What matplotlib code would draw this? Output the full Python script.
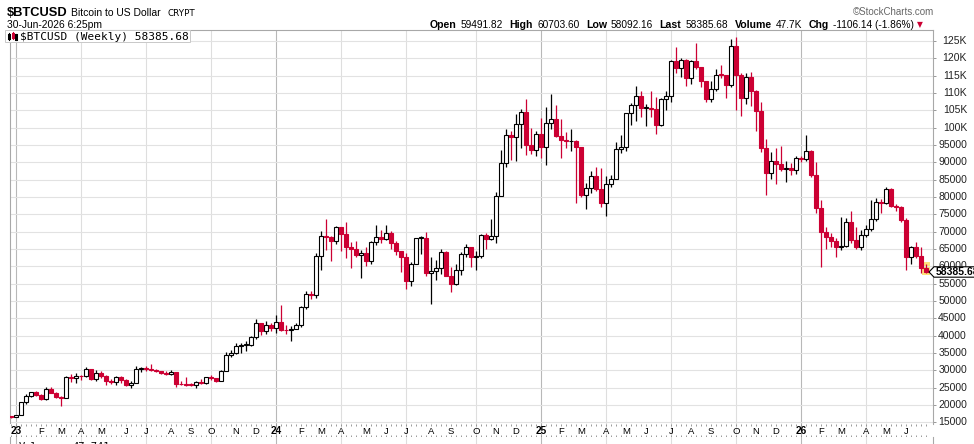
import numpy as np
import pandas as pd
import matplotlib
matplotlib.use("Agg")
import matplotlib.pyplot as plt
from matplotlib.patches import Rectangle, Polygon
from matplotlib.lines import Line2D
from matplotlib.transforms import blended_transform_factory

# --- weekly OHLC for $BTCUSD, thousands of USD ---
opens = [16.84, 16.62, 17.13, 20.88, 22.7, 23.75, 23.0, 21.8, 24.6, 23.55,
         22.4, 22.1, 28.0, 27.8, 28.5, 28.3, 30.3, 27.6, 29.2, 28.4,
         26.9, 26.75, 28.1, 27.1, 25.85, 26.3, 30.5, 30.6, 30.3, 30.25,
         29.9, 29.3, 29.05, 29.4, 26.1, 26.0, 25.85, 25.8, 26.55, 26.25,
         27.97, 27.93, 26.85, 29.95, 34.5, 35.0, 37.05, 37.4, 37.45, 39.5,
         43.8, 41.4, 43.0, 42.3, 43.95, 41.75, 41.6, 42.05, 43.0, 48.3,
         52.1, 51.7, 63.1, 68.9, 68.4, 67.2, 71.3, 69.4, 65.7, 64.9,
         63.4, 63.9, 61.5, 66.9, 68.5, 67.8, 69.6, 66.6, 64.3, 62.7,
         55.8, 60.8, 68.2, 68.3, 58.1, 58.7, 59.5, 64.2, 57.3, 54.8,
         59.1, 63.6, 65.6, 62.8, 62.9, 69.0, 67.9, 68.8, 80.4, 89.8,
         97.9, 97.3, 101.2, 104.5, 95.1, 93.7, 98.3, 94.5, 101.3, 102.6,
         97.7, 96.5, 96.1, 96.3, 94.3, 80.7, 82.6, 86.1, 82.3, 78.4,
         83.8, 85.1, 93.8, 94.3, 104.2, 106.5, 109.0, 105.7, 105.8, 105.5,
         100.9, 108.4, 109.2, 119.1, 117.3, 119.4, 114.2, 119.3, 117.4, 113.5,
         108.3, 111.1, 115.4, 115.2, 112.2, 123.5, 115.2, 108.6, 114.5, 110.5,
         104.7, 94.2, 86.8, 90.4, 89.4, 88.2, 88.4, 87.8, 91.4, 90.9,
         93.4, 86.3, 76.7, 70.0, 68.6, 67.4, 65.7, 66.0, 72.7, 67.6,
         65.7, 69.0, 70.8, 73.8, 78.5, 78.3, 82.3, 77.4, 77.0, 73.5,
         62.6, 65.7, 62.9, 59.49182]
highs = [16.96, 17.18, 21.0, 23.3, 23.9, 24.2, 23.2, 25.25, 25.1, 23.9,
         22.6, 28.4, 28.9, 29.2, 28.8, 30.9, 30.5, 30.0, 29.8, 28.6,
         27.6, 28.3, 28.4, 27.4, 26.8, 31.4, 31.0, 31.4, 31.8, 30.4,
         29.95, 29.7, 30.2, 29.6, 26.8, 28.1, 26.4, 27.0, 27.4, 28.0,
         28.6, 27.95, 30.0, 35.2, 35.9, 37.9, 38.0, 38.4, 40.0, 44.7,
         43.8, 44.3, 43.6, 45.9, 49.0, 43.2, 42.8, 43.8, 48.6, 52.8,
         52.9, 64.0, 70.1, 73.8, 68.9, 71.6, 71.3, 72.8, 66.9, 67.2,
         64.7, 65.5, 67.4, 71.9, 70.6, 71.9, 70.2, 67.3, 64.5, 63.8,
         61.4, 68.3, 68.9, 70.0, 62.7, 61.8, 65.0, 64.5, 59.8, 60.6,
         64.1, 66.5, 65.6, 64.5, 69.4, 69.5, 73.6, 81.5, 93.5, 99.6,
         98.9, 104.0, 105.3, 108.3, 99.9, 99.0, 102.7, 106.0, 109.6, 106.4,
         102.5, 98.8, 99.5, 96.5, 94.4, 84.0, 87.5, 88.8, 88.5, 86.1,
         86.4, 95.8, 97.9, 104.3, 107.1, 111.9, 110.7, 106.8, 110.5, 108.9,
         108.5, 110.5, 119.5, 123.2, 120.2, 119.8, 119.4, 124.5, 117.6, 113.6,
         113.4, 116.8, 118.0, 115.3, 125.7, 126.2, 115.9, 115.9, 116.2, 110.9,
         107.5, 96.6, 93.1, 94.2, 94.6, 90.4, 89.7, 91.8, 91.9, 97.9,
         93.5, 90.2, 79.1, 71.5, 69.5, 68.2, 74.1, 73.9, 76.1, 71.3,
         70.5, 72.0, 79.1, 79.7, 79.5, 83.0, 82.5, 78.0, 77.5, 74.0,
         65.9, 67.0, 65.5, 60.7036]
lows = [16.33, 16.55, 17.08, 20.4, 22.3, 22.6, 21.4, 21.4, 23.6, 21.9,
        19.6, 21.9, 26.6, 26.5, 27.2, 28.2, 27.1, 26.9, 27.7, 25.9,
        26.1, 25.9, 26.5, 25.4, 24.8, 26.3, 29.6, 29.8, 29.9, 29.6,
        29.0, 28.6, 28.7, 25.2, 25.8, 25.4, 25.4, 24.9, 26.0, 26.0,
        27.2, 26.55, 26.8, 29.9, 33.9, 34.6, 35.0, 35.7, 36.9, 39.0,
        40.2, 40.5, 41.5, 40.8, 41.5, 40.6, 38.5, 41.9, 42.6, 47.7,
        50.6, 50.9, 59.0, 64.6, 61.5, 66.4, 64.5, 62.5, 59.6, 62.8,
        56.6, 60.2, 60.8, 66.3, 66.7, 67.6, 65.1, 63.4, 58.4, 53.5,
        54.3, 60.6, 63.5, 57.2, 49.1, 56.1, 57.9, 57.2, 52.6, 54.6,
        57.5, 62.7, 59.8, 58.9, 62.4, 65.1, 67.5, 66.8, 80.3, 88.8,
        90.8, 90.5, 94.2, 92.2, 92.5, 91.8, 91.2, 89.3, 99.5, 97.2,
        91.2, 94.1, 93.4, 78.2, 80.0, 76.6, 81.3, 81.6, 77.1, 74.4,
        83.0, 85.1, 92.8, 93.4, 100.7, 102.0, 103.1, 100.4, 103.1, 98.2,
        100.4, 105.1, 107.5, 115.7, 114.7, 112.0, 112.6, 116.8, 111.7, 107.3,
        107.3, 110.6, 114.4, 108.6, 111.6, 105.0, 103.5, 106.9, 106.3, 98.9,
        93.0, 80.6, 85.2, 83.8, 87.6, 84.4, 86.3, 86.6, 90.2, 90.5,
        85.9, 75.5, 59.9, 64.9, 65.7, 62.8, 64.8, 65.5, 66.8, 65.0,
        64.8, 68.5, 70.3, 73.2, 75.5, 78.0, 77.0, 76.0, 72.8, 59.1,
        60.7, 62.5, 58.0, 58.09216]
closes = [16.62, 17.13, 20.88, 22.7, 23.75, 23.0, 21.8, 24.6, 23.55, 22.4,
          22.1, 28.0, 27.8, 28.5, 28.3, 30.3, 27.6, 29.2, 28.4, 26.9,
          26.75, 28.1, 27.1, 25.85, 26.3, 30.5, 30.6, 30.3, 30.25, 29.9,
          29.3, 29.05, 29.4, 26.1, 26.0, 25.85, 25.8, 26.55, 26.25, 27.97,
          27.93, 26.85, 29.95, 34.5, 35.0, 37.05, 37.4, 37.45, 39.5, 43.8,
          41.4, 43.0, 42.3, 43.95, 41.75, 41.6, 42.05, 43.0, 48.3, 52.1,
          51.7, 63.1, 68.9, 68.4, 67.2, 71.3, 69.4, 65.7, 64.9, 63.4,
          63.9, 61.5, 66.9, 68.5, 67.8, 69.6, 66.6, 64.3, 62.7, 55.8,
          60.8, 68.2, 68.3, 58.1, 58.7, 59.5, 64.2, 57.3, 54.8, 59.1,
          63.6, 65.6, 62.8, 62.9, 69.0, 67.9, 68.8, 80.4, 89.8, 97.9,
          97.3, 101.2, 104.5, 95.1, 93.7, 98.3, 94.5, 101.3, 102.6, 97.7,
          96.5, 96.1, 96.3, 94.3, 80.7, 82.6, 86.1, 82.3, 78.4, 83.8,
          85.1, 93.8, 94.3, 104.2, 106.5, 109.0, 105.7, 105.8, 105.5, 100.9,
          108.4, 109.2, 119.1, 117.3, 119.4, 114.2, 119.3, 117.4, 113.5, 108.3,
          111.1, 115.3, 115.2, 112.2, 123.5, 115.2, 108.6, 114.5, 110.5, 104.7,
          94.2, 86.8, 90.4, 89.4, 88.2, 88.4, 87.8, 91.4, 90.9, 93.4,
          86.3, 76.7, 70.0, 68.6, 67.4, 65.7, 66.0, 72.7, 67.6, 65.7,
          69.0, 70.8, 73.8, 78.5, 78.3, 82.3, 77.4, 77.0, 73.5, 62.6,
          65.7, 62.9, 59.49182, 58.38568]
weeks = pd.date_range("2022-12-26", periods=len(closes), freq="W-MON")

y_ticks = list(range(15000, 125001, 5000))
y_tick_labels = [f"{v // 1000}K" if v >= 100000 else str(v) for v in y_ticks]
month_letters = "JFMAMJJASOND"

header_fields = [("Open", "59491.82"), ("High", "60703.60"), ("Low", "58092.16"),
                 ("Last", "58385.68"), ("Volume", "47.7K"), ("Chg", "-1106.14 (-1.86%)")]

RED = "#cc0033"
FONT = ["Liberation Sans", "DejaVu Sans"]
MONO = ["DejaVu Sans Mono"]
W, H = 974, 444


def fx(px):
    return px / W


def fy(py):
    return 1 - py / H


fig = plt.figure(figsize=(W / 100, H / 100), dpi=100)
fig.patch.set_facecolor("white")

# --- main price panel ---
ax = fig.add_axes([fx(10), fy(424), fx(933) - fx(10), fy(30) - fy(424)])
ax.set_xlim(-0.2, 184.4)
ax.set_ylim(14543, 128172)

o = np.array(opens) * 1000
h = np.array(highs) * 1000
l = np.array(lows) * 1000
c = np.array(closes) * 1000
x = np.arange(len(c))
up = c >= o

# highlight behind the latest bar
last = len(c) - 1
ax.add_patch(Rectangle((last - 0.75, l[last] - 700), 1.5, h[last] - l[last] + 1400,
                       facecolor="#fde27a", edgecolor="none", zorder=1.5))

ax.vlines(x, l, h, colors=np.where(up, "black", RED), lw=0.9, zorder=2)
body = np.maximum(np.abs(c - o), 150)
bottom = np.minimum(o, c)
ax.bar(x[up], body[up], bottom=bottom[up], width=0.72, facecolor="white",
       edgecolor="black", lw=0.8, zorder=3)
ax.bar(x[~up], body[~up], bottom=bottom[~up], width=0.72, facecolor=RED,
       edgecolor=RED, lw=0.8, zorder=3)

ax.set_yticks(y_ticks)
ax.set_yticklabels([])
ax.tick_params(axis="y", left=False, right=True, length=2.5, color="#999999", width=0.7)
ax.set_xticks([])
ax.grid(axis="y", color="#e2e2e2", lw=0.8, zorder=0)
for side in ["left", "right", "top", "bottom"]:
    ax.spines[side].set_color("#a8a8a8")
    ax.spines[side].set_linewidth(0.8)
ax.spines["bottom"].set_visible(False)

# y labels on the right, right-aligned
ylab_trans = blended_transform_factory(fig.transFigure, ax.transData)
for v, lab in zip(y_ticks, y_tick_labels):
    fig.text(fx(967), v, lab, transform=ylab_trans, ha="right", va="center",
             fontsize=7.5, family=FONT, color="#222222")

# --- date strip and the cut-off volume panel ---
ax_strip = fig.add_axes([fx(10), fy(437), fx(933) - fx(10), fy(424) - fy(437)])
ax_strip.set_xlim(ax.get_xlim())
ax_strip.set_ylim(0, 1)
ax_strip.set_yticks([])
ax_strip.set_xticks(x, minor=True)
ax_strip.set_xticks([])
ax_strip.tick_params(axis="x", which="minor", direction="in", top=True, bottom=True,
                     length=1.6, width=0.6, color="#8a8a8a")
for side in ["left", "right", "top", "bottom"]:
    ax_strip.spines[side].set_visible(False)

ax_vol = fig.add_axes([fx(10), fy(470), fx(933) - fx(10), fy(437) - fy(470)])
ax_vol.set_xlim(ax.get_xlim())
ax_vol.set_xticks([])
ax_vol.set_yticks([])
for side in ["left", "right", "top", "bottom"]:
    ax_vol.spines[side].set_color("#a8a8a8")
    ax_vol.spines[side].set_linewidth(0.8)
ax_vol.spines["top"].set_visible(False)

month_starts = [i for i in range(1, len(weeks)) if weeks[i].month != weeks[i - 1].month]
strip_trans = blended_transform_factory(ax_strip.transData, ax_strip.transAxes)
for i in month_starts:
    d = weeks[i]
    if d.month == 1:
        ax_strip.text(i, 0.45, f"{d.year % 100:02d}", transform=strip_trans, ha="center",
                      va="center", fontsize=7.2, weight="bold", family=FONT)
    else:
        ax_strip.text(i, 0.45, month_letters[d.month - 1], transform=strip_trans,
                      ha="center", va="center", fontsize=6.8, family=FONT)
    if d.month in (1, 4, 7, 10):
        col = "#b8b8b8" if d.month == 1 else "#dedede"
        for a in (ax, ax_strip, ax_vol):
            a.axvline(i, color=col, lw=0.8, zorder=0.5)

# --- last price tag on the axis ---
ly = H - ax.transData.transform((0, c[last]))[1]
fig.patches.append(Polygon([(fx(929), fy(ly)), (fx(934), fy(ly - 5.2)), (fx(976), fy(ly - 5.2)),
                            (fx(976), fy(ly + 5.2)), (fx(934), fy(ly + 5.2))],
                           closed=True, transform=fig.transFigure, facecolor="white",
                           edgecolor="black", lw=0.8, zorder=5))
fig.text(fx(936), fy(ly), f"{closes[-1] * 1000:.2f}", ha="left", va="center",
         fontsize=7.5, weight="bold", family=FONT, zorder=6)

# --- header ---
fig.text(fx(7), fy(15.5), "$BTCUSD", fontsize=9.3, weight="bold", family=FONT, va="baseline")
fig.text(fx(71), fy(15.5), "Bitcoin to US Dollar", fontsize=7.5, family=FONT, va="baseline")
fig.text(fx(168), fy(15.5), "CRYPT", fontsize=6.3, family=["DejaVu Sans"], va="baseline")
fig.text(fx(7), fy(27.5), "30-Jun-2026 6:25pm", fontsize=7.4, family=FONT, va="baseline")
fig.text(fx(934), fy(15), "\u00a9StockCharts.com", fontsize=7, family=FONT,
         color="#666666", ha="right", va="baseline")

# Open/High/Low/... line, laid out left to right between x=430 and x=914
renderer = fig.canvas.get_renderer()
pieces = []
for lab, val in header_fields:
    pieces.append(fig.text(0, fy(27.5), lab, fontsize=7.6, weight="bold", family=FONT,
                           va="baseline"))
    pieces.append(fig.text(0, fy(27.5), val, fontsize=7.3, family=FONT, va="baseline"))
widths = [p.get_window_extent(renderer).width for p in pieces]
gaps = [4 if k % 2 == 0 else 0 for k in range(len(pieces))]
free = (914 - 430) - sum(widths) - sum(gaps)
n_between = len(header_fields) - 1
xcur = 430
for k, (p, w) in enumerate(zip(pieces, widths)):
    p.set_x(fx(xcur))
    xcur += w + gaps[k]
    if k % 2 == 1 and k < len(pieces) - 1:
        xcur += free / n_between
fig.text(fx(917), fy(25), "\u25bc", fontsize=5.5, color=RED, va="center",
         family=["DejaVu Sans"])

# legend box in the top-left corner of the price panel
fig.patches.append(Rectangle((fx(5), fy(42)), fx(190) - fx(5), fy(30) - fy(42),
                             transform=fig.transFigure, facecolor="white",
                             edgecolor="#c8c8c8", lw=0.7, zorder=4))
for xi, y0, y1, b0, b1, col in [(9, 33, 40, 35, 38, "black"), (12.5, 32.5, 39, 34, 37, RED),
                                (15.5, 33.5, 40.5, 35, 39, "black")]:
    fig.lines.append(Line2D([fx(xi), fx(xi)], [fy(y0), fy(y1)], transform=fig.transFigure,
                            color=col, lw=0.8, zorder=5))
    fig.lines.append(Line2D([fx(xi), fx(xi)], [fy(b0), fy(b1)], transform=fig.transFigure,
                            color=col, lw=2.2, zorder=5))
fig.text(fx(20), fy(39.5), "$BTCUSD (Weekly) 58385.68", fontsize=8.0, family=MONO,
         va="baseline", zorder=6)

# top of the volume panel label (cut off by the image edge)
fig.text(fx(19), fy(441.8), "Volume", fontsize=7.5, family=MONO, va="top")
fig.text(fx(72), fy(441.8), "47,741", fontsize=7.5, family=MONO, va="top")

plt.savefig("out.png", dpi=100)
